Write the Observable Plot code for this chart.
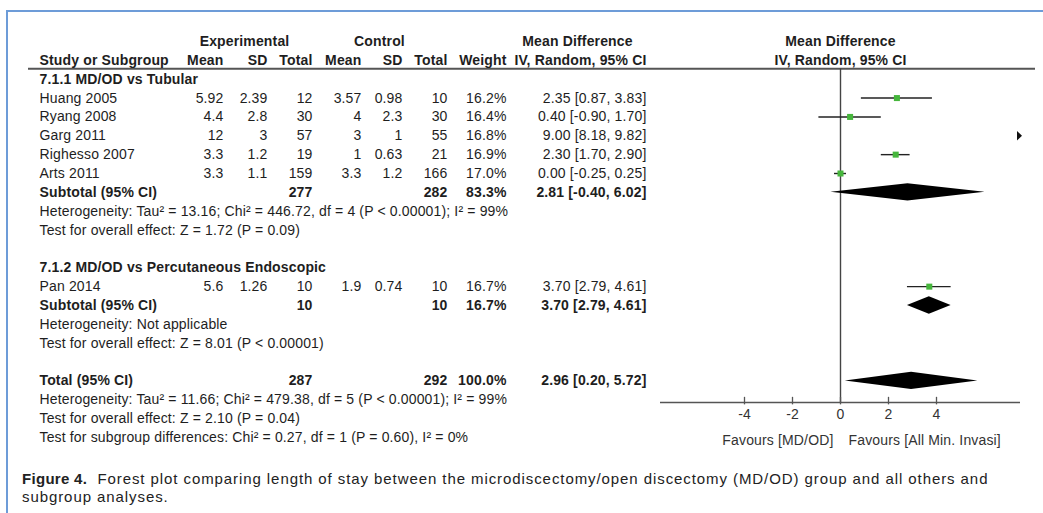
<!DOCTYPE html>
<html>
<head>
<meta charset="utf-8">
<script src="https://cdn.jsdelivr.net/npm/d3@7"></script>
<script src="https://cdn.jsdelivr.net/npm/@observablehq/plot@0.6"></script>
<style>
  body { margin: 0; background: #fff; }
  #wrap { position: relative; width: 1043px; height: 513px; overflow: hidden; font-family: "Liberation Sans", Arial, sans-serif; }
  #frame { position: absolute; left: 6px; top: 10px; right: -4px; bottom: -4px; border-left: 2px solid #6d9cd8; border-top: 2px solid #6d9cd8; }
  #chart { position: absolute; left: 0; top: 0; }
  #caption { position: absolute; left: 22px; top: 470px; font-size: 15px; letter-spacing: 0.92px; line-height: 18px; color: #222; white-space: nowrap; }
  #caption b { font-weight: bold; letter-spacing: 0.3px; }
</style>
</head>
<body>
<div id="wrap">
  <div id="frame"></div>
  <div id="chart"></div>
  <div id="caption"><b>Figure 4.</b>&nbsp; Forest plot comparing length of stay between the microdiscectomy/open discectomy (MD/OD) group and all others and<br>subgroup analyses.</div>
</div>
<script>
// ---- Study data (mean length of stay, experimental vs control) ----
const studies   = ["Huang 2005", "Ryang 2008", "Garg 2011", "Righesso 2007", "Arts 2011", "Pan 2014"];
const subgroupOf = [0, 0, 0, 0, 0, 1];
const expMean   = [5.92, 4.4, 12, 3.3, 3.3, 5.6];
const expSD     = [2.39, 2.8, 3, 1.2, 1.1, 1.26];
const expTotal  = [12, 30, 57, 19, 159, 10];
const ctlMean   = [3.57, 4, 3, 1, 3.3, 1.9];
const ctlSD     = [0.98, 2.3, 1, 0.63, 1.2, 0.74];
const ctlTotal  = [10, 30, 55, 21, 166, 10];
const weight    = [16.2, 16.4, 16.8, 16.9, 17.0, 16.7];
const md        = [2.35, 0.40, 9.00, 2.30, 0.00, 3.70];
const mdLow     = [0.87, -0.90, 8.18, 1.70, -0.25, 2.79];
const mdHigh    = [3.83, 1.70, 9.82, 2.90, 0.25, 4.61];

// ---- Subgroup pooled estimates ----
const subgroups      = ["7.1.1 MD/OD vs Tubular", "7.1.2 MD/OD vs Percutaneous Endoscopic"];
const subExpTotal    = [277, 10];
const subCtlTotal    = [282, 10];
const subWeight      = [83.3, 16.7];
const subMd          = [2.81, 3.70];
const subLow         = [-0.40, 2.79];
const subHigh        = [6.02, 4.61];
const subHeterogeneity = [
  "Heterogeneity: Tau\u00B2 = 13.16; Chi\u00B2 = 446.72, df = 4 (P < 0.00001); I\u00B2 = 99%",
  "Heterogeneity: Not applicable"
];
const subOverall = [
  "Test for overall effect: Z = 1.72 (P = 0.09)",
  "Test for overall effect: Z = 8.01 (P < 0.00001)"
];

// ---- Overall pooled estimate ----
const totalExp = 287, totalCtl = 292, totalWeight = 100.0;
const totalMd = 2.96, totalLow = 0.20, totalHigh = 5.72;
const totalNotes = [
  "Heterogeneity: Tau\u00B2 = 11.66; Chi\u00B2 = 479.38, df = 5 (P < 0.00001); I\u00B2 = 99%",
  "Test for overall effect: Z = 2.10 (P = 0.04)",
  "Test for subgroup differences: Chi\u00B2 = 0.27, df = 1 (P = 0.60), I\u00B2 = 0%"
];

// ---- Axis ----
const axisTicks  = [-4, -2, 0, 2, 4];
const tickLabels = ["-4", "-2", "0", "2", "4"];
const favourLeft = "Favours [MD/OD]";
const favourRight = "Favours [All Min. Invasi]";

// ---- Build table rows (one line of text per row index) ----
const ci = (m, l, h) => `${m.toFixed(2)} [${l.toFixed(2)}, ${h.toFixed(2)}]`;
const rows = [];
const studyRows = [];
const diamonds = [];
let r = 2;
subgroups.forEach((g, gi) => {
  rows.push({row: r++, label: g, bold: true});
  studies.forEach((s, i) => {
    if (subgroupOf[i] !== gi) return;
    const d = {
      row: r++, label: s, bold: false,
      expMean: String(expMean[i]), expSD: String(expSD[i]), expTotal: String(expTotal[i]),
      ctlMean: String(ctlMean[i]), ctlSD: String(ctlSD[i]), ctlTotal: String(ctlTotal[i]),
      weight: weight[i].toFixed(1) + "%", ci: ci(md[i], mdLow[i], mdHigh[i]),
      md: md[i], lo: mdLow[i], hi: mdHigh[i]
    };
    rows.push(d);
    studyRows.push(d);
  });
  const sub = {
    row: r++, label: "Subtotal (95% CI)", bold: true,
    expTotal: String(subExpTotal[gi]), ctlTotal: String(subCtlTotal[gi]),
    weight: subWeight[gi].toFixed(1) + "%", ci: ci(subMd[gi], subLow[gi], subHigh[gi])
  };
  rows.push(sub);
  diamonds.push({id: "s" + gi, row: sub.row, md: subMd[gi], lo: subLow[gi], hi: subHigh[gi]});
  rows.push({row: r++, label: subHeterogeneity[gi], bold: false});
  rows.push({row: r++, label: subOverall[gi], bold: false});
  r++; // blank spacer line
});
const totalRow = {
  row: r++, label: "Total (95% CI)", bold: true,
  expTotal: String(totalExp), ctlTotal: String(totalCtl),
  weight: totalWeight.toFixed(1) + "%", ci: ci(totalMd, totalLow, totalHigh)
};
rows.push(totalRow);
diamonds.push({id: "t", row: totalRow.row, md: totalMd, lo: totalLow, hi: totalHigh});
totalNotes.forEach(t => rows.push({row: r++, label: t, bold: false}));

// column header line
const header = [
  {row: 1, label: "Study or Subgroup", bold: true, expMean: "Mean", expSD: "SD", expTotal: "Total",
   ctlMean: "Mean", ctlSD: "SD", ctlTotal: "Total", weight: "Weight", ci: "IV, Random, 95% CI"}
];
const allRows = header.concat(rows);

// ---- Layout (pixels) ----
const ML = 28;
const xMin = -7.5, xMax = 7.5;
const axisRow = 19.15;
const ruleRow = 1.45;
const colRight = {expMean: 223, expSD: 267, expTotal: 312, ctlMean: 361, ctlSD: 402, ctlTotal: 447, weight: 506, ci: 646};
const font = "'Liberation Sans', Arial, sans-serif";

function column(key, x, anchor) {
  return [false, true].map(b => Plot.text(
    allRows.filter(d => !!d.bold === b && d[key] != null),
    {y: "row", text: key, frameAnchor: "left", dx: x - ML, textAnchor: anchor,
     fontWeight: b ? "bold" : "normal", fill: "#1e1e1e"}
  ));
}

// narrow right-pointing arrow for intervals running past the axis
const arrowRight = {
  draw(context) {
    context.moveTo(-2.5, -4.8);
    context.lineTo(2.5, 0);
    context.lineTo(-2.5, 4.8);
    context.closePath();
  }
};

// diamond outlines: left tip, top/bottom at estimate, right tip
const diamondPts = diamonds.flatMap(d => [
  {id: d.id, x: d.lo, y1: d.row, y2: d.row},
  {id: d.id, x: d.md, y1: d.row - 0.46, y2: d.row + 0.46},
  {id: d.id, x: d.hi, y1: d.row, y2: d.row}
]);

const groupHeads = [
  {x: 244, text: "Experimental"},
  {x: 379, text: "Control"},
  {x: 577, text: "Mean Difference"}
];

const chart = Plot.plot({
  width: 1043,
  height: 460,
  marginLeft: ML, marginRight: 8, marginTop: 0, marginBottom: 0,
  x: {domain: [xMin, xMax], range: [660, 1020], axis: null},
  y: {domain: [0, 21], range: [41, 437], axis: null},
  style: {fontFamily: font, fontSize: "14px", letterSpacing: "0.15px", background: "transparent", overflow: "visible"},
  marks: [
    // header separator
    Plot.ruleY([ruleRow], {stroke: "#555", strokeWidth: 2}),
    // group headings over the column blocks
    ...groupHeads.map(g => Plot.text([g], {y: () => 0, text: "text", frameAnchor: "left", dx: g.x - ML,
      textAnchor: "middle", fontWeight: "bold", fill: "#1e1e1e"})),
    // table columns
    ...column("label", 39, "start"),
    ...column("expMean", colRight.expMean, "end"),
    ...column("expSD", colRight.expSD, "end"),
    ...column("expTotal", colRight.expTotal, "end"),
    ...column("ctlMean", colRight.ctlMean, "end"),
    ...column("ctlSD", colRight.ctlSD, "end"),
    ...column("ctlTotal", colRight.ctlTotal, "end"),
    ...column("weight", colRight.weight, "end"),
    ...column("ci", colRight.ci, "end"),
    // forest plot header
    Plot.text(["Mean Difference", "IV, Random, 95% CI"], {x: 0, y: (d, i) => i, text: d => d,
      fontWeight: "bold", fill: "#1e1e1e"}),
    // line of no effect
    Plot.ruleX([0], {y1: ruleRow, y2: axisRow, stroke: "#444", strokeWidth: 1.4}),
    // confidence intervals (clipped to the axis)
    Plot.ruleY(studyRows.filter(d => d.lo < xMax), {y: "row", x1: d => Math.max(d.lo, xMin),
      x2: d => Math.min(d.hi, xMax), stroke: "#222", strokeWidth: 1.4}),
    // point estimates
    Plot.dot(studyRows.filter(d => d.md <= xMax), {x: "md", y: "row", symbol: "square", r: 3.4,
      fill: "#46b63c", stroke: "none"}),
    // off-scale marker
    Plot.dot(studyRows.filter(d => d.hi > xMax), {x: () => xMax, y: "row", symbol: arrowRight,
      fill: "#111", stroke: "none", dx: -1}),
    // pooled diamonds
    Plot.areaY(diamondPts, {x: "x", y1: "y1", y2: "y2", z: "id", fill: "#000"}),
    // axis
    Plot.ruleY([axisRow], {x1: xMin, x2: xMax, stroke: "#555", strokeWidth: 1.5}),
    Plot.ruleX(axisTicks, {x: d => d, y1: axisRow - 0.28, y2: axisRow + 0.12, stroke: "#555", strokeWidth: 1.3}),
    Plot.text(axisTicks, {x: d => d, y: axisRow, dy: 12, text: (d, i) => tickLabels[i], fill: "#333"}),
    Plot.text([favourLeft], {x: 0, y: axisRow, dy: 38, dx: -7, text: d => d, textAnchor: "end", fill: "#333"}),
    Plot.text([favourRight], {x: 0, y: axisRow, dy: 38, dx: 8, text: d => d, textAnchor: "start", fill: "#333"})
  ]
});
document.getElementById("chart").appendChild(chart);
</script>
</body>
</html>
